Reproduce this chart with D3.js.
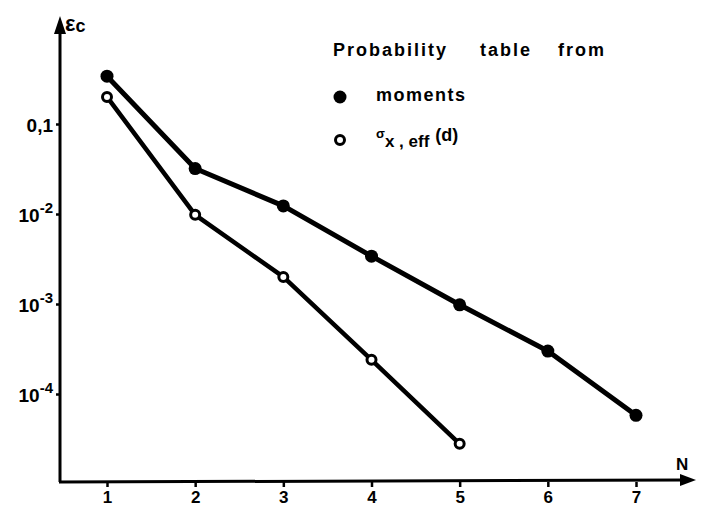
<!DOCTYPE html>
<html>
<head>
<meta charset="utf-8">
<script src="https://cdn.jsdelivr.net/npm/d3@7"></script>
<style>
  body { margin: 0; background: #fff; }
  text { font-family: "Liberation Sans", Arial, sans-serif; fill: #000; }
</style>
</head>
<body>
<div id="chart"></div>
<script>
// data
const orders = [1, 2, 3, 4, 5, 6, 7];
const momentsErr = [0.34, 0.032, 0.0123, 0.0034, 0.00098, 0.0003, 0.000058];
const sigmaOrders = [1, 2, 3, 4, 5];
const sigmaErr = [0.2, 0.0098, 0.002, 0.00024, 0.000028];
const yTicks = [0.1, 0.01, 0.001, 0.0001];
const yTickLabels = [["0,1", ""], ["10", "-2"], ["10", "-3"], ["10", "-4"]];
const legendTitle = ["Probability", "table", "from"];

const width = 702, height = 507;
const svg = d3.select("#chart").append("svg")
    .attr("width", width)
    .attr("height", height);

const x = d3.scaleLinear().domain([1, 7]).range([107, 636]);
const y = d3.scaleLog().domain([1e-4, 0.1]).range([394, 124]);

const axisX0 = 60, axisY0 = 482;

// axes lines with arrow heads
svg.append("line")
    .attr("x1", axisX0).attr("y1", axisY0)
    .attr("x2", axisX0).attr("y2", 26)
    .attr("stroke", "#000").attr("stroke-width", 3);
svg.append("path")
    .attr("d", `M${axisX0},16 L${axisX0 - 6},34 L${axisX0 + 6},34 Z`)
    .attr("fill", "#000");
svg.append("line")
    .attr("x1", axisX0 - 1).attr("y1", axisY0)
    .attr("x2", 686).attr("y2", axisY0 - 2)
    .attr("stroke", "#000").attr("stroke-width", 3);
svg.append("path")
    .attr("d", `M696,${axisY0 - 2} L680,${axisY0 - 8} L680,${axisY0 + 4} Z`)
    .attr("fill", "#000");

// y axis ticks
const yAxis = d3.axisLeft(y).tickValues(yTicks).tickSize(4).tickSizeOuter(0).tickFormat("");
const gy = svg.append("g")
    .attr("transform", `translate(${axisX0},0)`)
    .call(yAxis);
gy.select(".domain").remove();
gy.selectAll(".tick line").attr("stroke", "#000").attr("stroke-width", 2.5);
gy.selectAll(".tick").each(function(d, i) {
    const t = d3.select(this).append("text")
        .attr("x", -7)
        .attr("y", 7)
        .attr("text-anchor", "end")
        .attr("font-size", 19)
        .attr("font-weight", "bold");
    t.append("tspan").text(yTickLabels[i][0]);
    if (yTickLabels[i][1]) {
        t.append("tspan").attr("dy", -9).attr("font-size", 15).text(yTickLabels[i][1]);
    }
});

// x axis ticks
const xAxis = d3.axisBottom(x).tickValues(orders).tickSize(5).tickSizeOuter(0).tickFormat(d3.format("d"));
const gx = svg.append("g")
    .attr("transform", `translate(0,${axisY0})`)
    .call(xAxis);
gx.select(".domain").remove();
gx.selectAll(".tick line").attr("stroke", "#000").attr("stroke-width", 2.5);
gx.selectAll(".tick text")
    .attr("y", 9)
    .attr("font-size", 17)
    .attr("font-weight", "bold")
    .attr("fill", "#000");

// axis titles
const ylab = svg.append("text").attr("x", 65).attr("y", 31)
    .attr("font-size", 22).attr("font-weight", "bold");
ylab.append("tspan").text("ε");
ylab.append("tspan").attr("font-size", 18).attr("dy", 1).text("c");
svg.append("text").attr("x", 676).attr("y", 470)
    .attr("font-size", 17).attr("font-weight", "bold").text("N");

// lines
const line = d3.line().x(d => x(d[0])).y(d => y(d[1]));
const momentsPts = orders.map((n, i) => [n, momentsErr[i]]);
const sigmaPts = sigmaOrders.map((n, i) => [n, sigmaErr[i]]);

svg.append("path").datum(momentsPts)
    .attr("d", line).attr("fill", "none")
    .attr("stroke", "#000").attr("stroke-width", 5).attr("stroke-linejoin", "round");
svg.append("path").datum(sigmaPts)
    .attr("d", line).attr("fill", "none")
    .attr("stroke", "#000").attr("stroke-width", 4.5).attr("stroke-linejoin", "round");

svg.selectAll(".mom").data(momentsPts).join("circle")
    .attr("class", "mom")
    .attr("cx", d => x(d[0])).attr("cy", d => y(d[1]))
    .attr("r", 6.5).attr("fill", "#000");
svg.selectAll(".sig").data(sigmaPts).join("circle")
    .attr("class", "sig")
    .attr("cx", d => x(d[0])).attr("cy", d => y(d[1]))
    .attr("r", 4.5).attr("fill", "#fff")
    .attr("stroke", "#000").attr("stroke-width", 3);

// legend
const lg = svg.append("g");
const lt = lg.append("text").attr("y", 56)
    .attr("font-size", 18).attr("font-weight", "bold").attr("letter-spacing", 2);
[333, 480, 558].forEach((px, i) => lt.append("tspan").attr("x", px).text(legendTitle[i]));
lg.append("circle").attr("cx", 340).attr("cy", 97).attr("r", 6.5).attr("fill", "#000");
lg.append("text").attr("x", 376).attr("y", 101)
    .attr("font-size", 18).attr("font-weight", "bold").attr("letter-spacing", 1.5).text("moments");
lg.append("circle").attr("cx", 340).attr("cy", 140).attr("r", 4.5)
    .attr("fill", "#fff").attr("stroke", "#000").attr("stroke-width", 3);
const sl = lg.append("text").attr("x", 376).attr("y", 140)
    .attr("font-weight", "bold").attr("font-size", 13);
sl.append("tspan").attr("dy", -2).text("σ");
sl.append("tspan").attr("dy", 9).attr("font-size", 17).text("x , eff");
sl.append("tspan").attr("dy", -6).attr("dx", 6).attr("font-size", 18).text("(d)");
</script>
</body>
</html>
